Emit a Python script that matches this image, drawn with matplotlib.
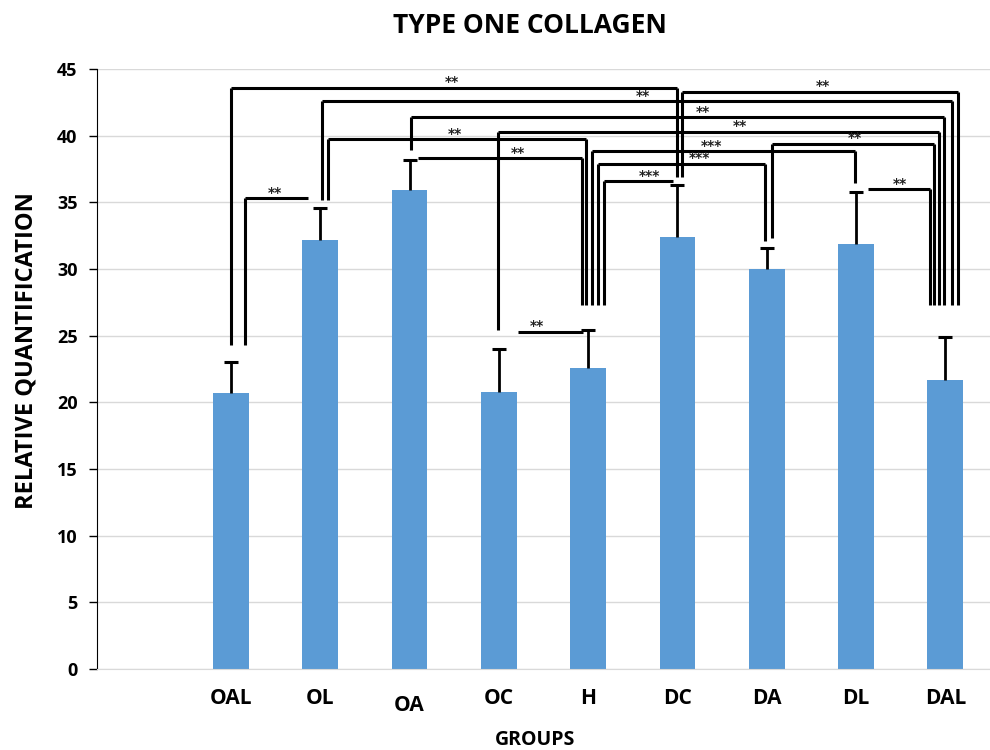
import matplotlib.pyplot as plt
import numpy as np

plt.rcParams['font.family'] = ['Open Sans', 'DejaVu Sans']

groups = ['OAL', 'OL', 'OA', 'OC', 'H', 'DC', 'DA', 'DL', 'DAL']
means = [20.7, 32.2, 35.9, 20.8, 22.6, 32.4, 30.0, 31.9, 21.7]
errors = [2.3, 2.4, 2.3, 3.2, 2.8, 3.9, 1.6, 3.9, 3.2]

# significance comparisons (left group, right group), bracket height, stars
sig_pairs = [('OAL', 'OL'), ('OAL', 'DC'), ('OL', 'DAL'), ('OA', 'DAL'),
             ('OC', 'DAL'), ('DC', 'DAL'), ('OL', 'H'), ('OA', 'H'),
             ('H', 'DL'), ('H', 'DA'), ('H', 'DC'), ('DA', 'DAL'),
             ('DL', 'DAL'), ('OC', 'H')]
sig_heights = [35.3, 43.6, 42.6, 41.4, 40.3, 43.3, 39.75, 38.3,
               38.85, 37.9, 36.6, 39.4, 36.0, 25.3]
sig_stars = ['**', '**', '**', '**', '**', '**', '**', '**',
             '***', '***', '***', '**', '**', '**']

# bracket layout: x offsets of the two ends, where the legs stop, star x
bracket_layout = [
    (0.157, -0.137, 24.3, None, 1.49),
    (0.0, -0.005, 24.3, 36.9, 3.47),
    (0.02, 0.07, 35.2, 27.3, 5.61),
    (0.02, -0.01, 38.9, 27.3, 6.29),
    (-0.01, -0.07, 25.4, 27.3, 6.70),
    (0.05, 0.14, 36.9, 27.3, 7.63),
    (0.09, -0.02, 35.2, 27.3, 3.51),
    (0.09, -0.07, None, 27.3, 4.21),
    (0.04, -0.01, 27.3, 36.45, 6.38),
    (0.11, -0.02, 27.3, 32.1, 6.25),
    (0.18, -0.05, 27.3, None, 5.69),
    (0.06, -0.13, 32.3, 27.3, 7.99),
    (0.13, -0.17, None, 27.3, 8.49),
    (0.21, -0.06, None, None, 4.43),
]

x = np.arange(1, len(groups) + 1)
pos = dict(zip(groups, x))

fig = plt.figure(figsize=(9.9, 7.5), dpi=100)
ax = fig.add_axes([0.098, 0.108, 0.902, 0.8])

ax.bar(x, means, width=0.4, color='#5B9BD5', zorder=2)
eb = ax.errorbar(x, means, yerr=[np.zeros(len(errors)), errors], fmt='none',
                 ecolor='black', elinewidth=2, capsize=5, capthick=2.2, zorder=3)
eb[1][0].set_visible(False)  # only the upper cap

for (g1, g2), h, stars, lay in zip(sig_pairs, sig_heights, sig_stars, bracket_layout):
    dx1, dx2, b1, b2, sx = lay
    x1 = pos[g1] + dx1
    x2 = pos[g2] + dx2
    ax.plot([x1, x2], [h, h], color='black', lw=2.2, solid_capstyle='butt', zorder=4)
    if b1 is not None:
        ax.plot([x1, x1], [h, b1], color='black', lw=2.2, solid_capstyle='butt', zorder=4)
    if b2 is not None:
        ax.plot([x2, x2], [h, b2], color='black', lw=2.2, solid_capstyle='butt', zorder=4)
    ax.text(sx, h + 0.4, stars, ha='center', va='center', fontsize=10,
            fontweight='bold', family='DejaVu Sans', color='#222222', zorder=5)

ax.set_xlim(-0.5, 9.5)
ax.set_ylim(0, 45)
ax.set_yticks(np.arange(0, 46, 5))
ax.set_xticks(x)
ax.set_xticklabels(groups, fontsize=15, fontweight='bold')
for lbl in ax.get_yticklabels():
    lbl.set_fontsize(13)
    lbl.set_fontweight('bold')

ax.yaxis.grid(True, color='#d9d9d9', lw=1)
ax.set_axisbelow(True)
for s in ['top', 'right']:
    ax.spines[s].set_visible(False)
ax.spines['bottom'].set_color('#d9d9d9')
ax.spines['left'].set_color('black')
ax.tick_params(axis='x', length=0, pad=14)
ax.tick_params(axis='y', length=6, width=1, pad=8)
# the OA label sits a little lower in the original
ax.xaxis.get_major_ticks()[2].set_pad(19)

ax.set_xlabel('GROUPS', fontsize=14, fontweight='bold')
ax.xaxis.set_label_coords(0.49, -0.102)
ax.set_ylabel('RELATIVE QUANTIFICATION', fontsize=17, fontweight='bold')
ax.yaxis.set_label_coords(-0.066, 0.53)
fig.suptitle('TYPE ONE COLLAGEN', fontsize=19, fontweight='bold', x=0.535, y=0.984)

fig.savefig('out.png', dpi=100)
